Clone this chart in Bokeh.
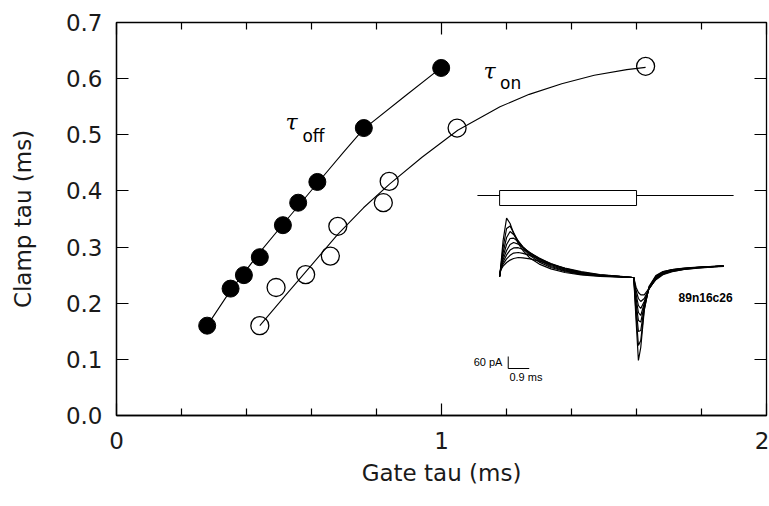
from bokeh.plotting import figure
from bokeh.models import Range1d, LinearAxis, PrintfTickFormatter, FixedTicker
from bokeh.core.properties import value
from bokeh.embed import file_html
from bokeh.resources import INLINE

# ---------------- main data (Gate tau vs Clamp tau, ms) ----------------
TAU_OFF_GATE = [0.279, 0.351, 0.392, 0.441, 0.512, 0.559, 0.618, 0.761, 0.999]
TAU_OFF_CLAMP = [0.160, 0.226, 0.250, 0.282, 0.339, 0.379, 0.416, 0.512, 0.619]
TAU_ON_GATE = [0.441, 0.491, 0.582, 0.658, 0.681, 0.821, 0.839, 1.048, 1.628]
TAU_ON_CLAMP = [0.160, 0.228, 0.251, 0.284, 0.337, 0.379, 0.417, 0.512, 0.622]

# fitted curves
FIT_OFF_X = [0.279, 0.35, 0.44, 0.52, 0.62, 0.70, 0.76, 0.89, 1.0]
FIT_OFF_Y = [0.160, 0.222, 0.290, 0.346, 0.415, 0.470, 0.510, 0.570, 0.620]
FIT_ON_X = [0.441, 0.52, 0.60, 0.68, 0.76, 0.84, 0.94, 1.05, 1.18, 1.27, 1.37, 1.47, 1.57, 1.628]
FIT_ON_Y = [0.160, 0.214, 0.268, 0.322, 0.370, 0.412, 0.460, 0.508, 0.550, 0.572, 0.591, 0.606, 0.616, 0.620]

X_TICKS = [0, 1, 2]
X_MINOR = [0.2, 0.4, 0.6, 0.8, 1.2, 1.4, 1.6, 1.8]
Y_TICKS = [0.0, 0.1, 0.2, 0.3, 0.4, 0.5, 0.6, 0.7]

# ---------------- inset: gating current traces (ms, pA) ----------------
TRACE_T = [0.0, 0.05, 0.15, 0.3, 0.45, 0.6, 0.8, 1.0, 1.3, 1.7, 2.2, 2.8, 3.5, 4.3, 5.2, 5.7,
           5.75, 5.85, 5.95, 6.05, 6.2, 6.4, 6.7, 7.0, 7.4, 7.9, 8.5, 9.2, 9.6]
TRACE_I = [
    [-30, 20, 150, 262, 235, 185, 135, 100, 62, 32, 8, -10, -22, -29, -33, -35,
     -35, -250, -450, -385, -200, -80, -25, -5, 5, 12, 17, 21, 23],
    [-30, 15, 115, 210, 222, 190, 145, 112, 75, 42, 15, -5, -19, -27, -32, -35,
     -35, -220, -375, -350, -195, -85, -28, -7, 4, 11, 16, 21, 23],
    [-30, 12, 90, 165, 195, 180, 148, 118, 82, 50, 20, -2, -17, -26, -32, -35,
     -35, -190, -305, -300, -185, -88, -31, -9, 3, 10, 16, 20, 23],
    [-30, 10, 70, 130, 160, 162, 143, 118, 87, 55, 25, 2, -15, -25, -31, -35,
     -35, -165, -250, -258, -175, -90, -34, -11, 2, 9, 15, 20, 22],
    [-30, 8, 55, 100, 130, 140, 132, 115, 90, 60, 30, 5, -13, -24, -31, -35,
     -35, -140, -210, -225, -165, -92, -37, -13, 0, 8, 15, 20, 22],
    [-30, 6, 42, 78, 102, 113, 114, 105, 88, 62, 34, 8, -11, -23, -30, -35,
     -35, -120, -175, -190, -155, -93, -40, -15, -2, 7, 14, 19, 22],
    [-30, 4, 32, 58, 76, 87, 90, 86, 76, 58, 35, 11, -9, -22, -30, -35,
     -35, -100, -140, -155, -140, -92, -43, -18, -4, 6, 13, 19, 22],
    [-30, 3, 22, 40, 52, 60, 65, 63, 58, 47, 30, 12, -6, -20, -29, -35,
     -35, -85, -110, -122, -122, -90, -46, -21, -6, 5, 12, 18, 21],
]

# voltage protocol (ms) and its drawing levels in the inset's units
PROTO_START, PULSE_ON, PULSE_OFF, PROTO_END = -0.95, 0.0, 5.87, 10.03
PROTO_LEVEL, PULSE_LOW, PULSE_HIGH = 375, 325, 400

# scale bar
BAR_T0, BAR_I0, BAR_DT, BAR_DI = 0.37, -490, 0.9, 60

# inset ranges (ms / pA mapped onto the frame)
INSET_T = (-16.42, 11.44)
INSET_I = (-725, 1240)

FONT = "DejaVu Sans"
TEXT_COLOR = "#1a1a1a"

p = figure(width=769, height=506, x_range=Range1d(0, 2), y_range=Range1d(0, 0.7),
           output_backend="svg", toolbar_location=None,
           min_border_left=116, min_border_right=3, min_border_top=22, min_border_bottom=91)
p.extra_x_ranges = {"ins_x": Range1d(*INSET_T)}
p.extra_y_ranges = {"ins_y": Range1d(*INSET_I)}

bottom = p.below[0]
left = p.left[0]

p.grid.visible = False
p.outline_line_color = "black"
p.outline_line_width = 1.3
p.background_fill_color = "white"
p.border_fill_color = "white"

# axes
xt = FixedTicker(ticks=X_TICKS, minor_ticks=X_MINOR)
yt = FixedTicker(ticks=Y_TICKS, minor_ticks=[])
bottom.ticker = xt
left.ticker = yt
left.formatter = PrintfTickFormatter(format="%.1f")

top = LinearAxis(ticker=xt, major_label_text_color=None, major_label_text_font_size="1px",
                 axis_line_color=None, major_label_standoff=0)
right = LinearAxis(ticker=yt, major_label_text_color=None, major_label_text_font_size="1px",
                   axis_line_color=None, major_label_standoff=0)
p.add_layout(top, "above")
p.add_layout(right, "right")

for ax in [bottom, left, top, right]:
    ax.major_tick_in = 12
    ax.major_tick_out = 0
    ax.minor_tick_in = 7
    ax.minor_tick_out = 0
    ax.major_tick_line_color = "black"
    ax.minor_tick_line_color = "black"
    ax.major_tick_line_width = 1.2
    ax.minor_tick_line_width = 1.2

for ax in [bottom, left]:
    ax.axis_line_color = "black"
    ax.axis_line_width = 1.3
    ax.major_label_text_font = FONT
    ax.major_label_text_font_size = "23px"
    ax.major_label_text_color = TEXT_COLOR
    ax.axis_label_text_font = FONT
    ax.axis_label_text_font_size = "23px"
    ax.axis_label_text_font_style = "normal"
    ax.axis_label_text_color = TEXT_COLOR

bottom.axis_label = "Gate tau (ms)"
bottom.major_label_standoff = 16
bottom.axis_label_standoff = 8
left.axis_label = "Clamp tau (ms)"
left.major_label_standoff = 14
left.axis_label_standoff = 27

# fitted curves
p.line(FIT_OFF_X, FIT_OFF_Y, line_color="black", line_width=1.1)
p.line(FIT_ON_X, FIT_ON_Y, line_color="black", line_width=1.1)

# data points
p.scatter(TAU_OFF_GATE, TAU_OFF_CLAMP, marker="circle", size=17,
          fill_color="black", line_color="black")
p.scatter(TAU_ON_GATE, TAU_ON_CLAMP, marker="circle", size=18,
          fill_color=None, line_color="black", line_width=1.3)

# tau labels
p.text(x=[0.52], y=[0.522], text=["τ"], text_font=value("DejaVu Serif"),
       text_font_style="italic", text_font_size="22px", text_baseline="middle",
       text_align="left", text_color="black")
p.text(x=[0.572], y=[0.497], text=["off"], text_font=value(FONT),
       text_font_size="17px", text_baseline="middle", text_align="left", text_color="black")
p.text(x=[1.129], y=[0.613], text=["τ"], text_font=value("DejaVu Serif"),
       text_font_style="italic", text_font_size="22px", text_baseline="middle",
       text_align="left", text_color="black")
p.text(x=[1.18], y=[0.592], text=["on"], text_font=value(FONT),
       text_font_size="17px", text_baseline="middle", text_align="left", text_color="black")

# inset: protocol
p.line([PROTO_START, PULSE_ON], [PROTO_LEVEL, PROTO_LEVEL], line_color="black",
       line_width=1, x_range_name="ins_x", y_range_name="ins_y")
p.line([PULSE_OFF, PROTO_END], [PROTO_LEVEL, PROTO_LEVEL], line_color="black",
       line_width=1, x_range_name="ins_x", y_range_name="ins_y")
p.quad(left=[PULSE_ON], right=[PULSE_OFF], bottom=[PULSE_LOW], top=[PULSE_HIGH],
       fill_color=None, line_color="black", line_width=1,
       x_range_name="ins_x", y_range_name="ins_y")

# inset: traces
p.multi_line([TRACE_T] * len(TRACE_I), TRACE_I, line_color="black", line_width=1.2,
             x_range_name="ins_x", y_range_name="ins_y")

# inset: scale bar
p.line([BAR_T0, BAR_T0, BAR_T0 + BAR_DT], [BAR_I0 + BAR_DI, BAR_I0, BAR_I0],
       line_color="black", line_width=1, x_range_name="ins_x", y_range_name="ins_y")
p.text(x=[BAR_T0 - 0.25], y=[BAR_I0 + BAR_DI * 0.55], text=["60 pA"],
       text_font=value("Liberation Sans"), text_font_size="11px", text_align="right",
       text_baseline="middle", text_color="black",
       x_range_name="ins_x", y_range_name="ins_y")
p.text(x=[BAR_T0 + 0.05], y=[BAR_I0 - 12], text=["0.9 ms"],
       text_font=value("Liberation Sans"), text_font_size="11px", text_align="left",
       text_baseline="top", text_color="black",
       x_range_name="ins_x", y_range_name="ins_y")
p.text(x=[7.67], y=[-135], text=["89n16c26"],
       text_font=value("Liberation Sans"), text_font_size="12px", text_font_style="bold",
       text_align="left", text_baseline="middle", text_color="black",
       x_range_name="ins_x", y_range_name="ins_y")

open("out.html", "w").write(file_html(p, INLINE))
